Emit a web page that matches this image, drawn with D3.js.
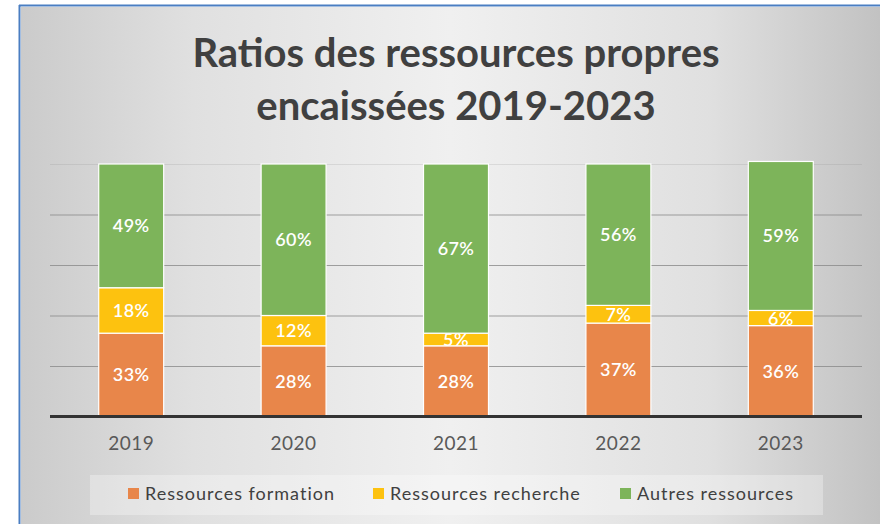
<!DOCTYPE html>
<html><head><meta charset="utf-8">
<script src="https://cdn.jsdelivr.net/npm/d3@7"></script>
<style>html,body{margin:0;padding:0;background:#fff}svg{display:block}</style>
</head><body>
<svg id="c" width="880" height="524"></svg>
<script>
const years = ["2019","2020","2021","2022","2023"];
const seriesNames = ["Ressources formation","Ressources recherche","Autres ressources"];
const formation = [0.33,0.28,0.28,0.37,0.36];
const recherche = [0.18,0.12,0.05,0.07,0.06];
const autres = [0.49,0.60,0.67,0.56,0.59];
const colors = ["#E8864A","#FDC20F","#7DB45A"];
const gridTicks = [0.2,0.4,0.6,0.8,1.0];
const titleLines = ["Ratios des ressources propres","encaissées 2019-2023"];

const svg = d3.select("#c");
const defs = svg.append("defs");
const g1 = defs.append("linearGradient").attr("id","bg").attr("x1","0").attr("x2","1").attr("y1","0").attr("y2","0");
[[0,"#cbcbcb"],[0.2,"#e0e0e0"],[0.5,"#f0f0f0"],[0.8,"#e0e0e0"],[1,"#c2c2c2"]].forEach(s=>g1.append("stop").attr("offset",s[0]).attr("stop-color",s[1]));

svg.append("rect").attr("x",0).attr("y",0).attr("width",880).attr("height",524).attr("fill","#fff");
svg.append("rect").attr("x",21).attr("y",7).attr("width",859).attr("height",517).attr("fill","url(#bg)");
svg.append("line").attr("x1",19.5).attr("x2",19.5).attr("y1",5).attr("y2",524).attr("stroke","#4a7ec2").attr("stroke-width",2);
svg.append("line").attr("x1",19).attr("x2",880).attr("y1",5.5).attr("y2",5.5).attr("stroke","#4a7ec2").attr("stroke-width",2);

// title
svg.append("g").selectAll("text").data(titleLines).join("text")
  .attr("x",456).attr("y",(d,i)=>67+i*53).attr("text-anchor","middle")
  .attr("font-family","Lato").attr("font-weight","bold").attr("font-size",40)
  .attr("fill","#404040").text(d=>d);

const x = d3.scaleBand().domain(years).range([50,862]).paddingInner(0.6).paddingOuter(0.3);
const y = d3.scaleLinear().domain([0,1]).range([416.5,164]);

// gridlines
svg.append("g").attr("transform","translate(50,0)")
  .call(d3.axisLeft(y).tickValues(gridTicks).tickSize(-(862-50)).tickFormat(""))
  .call(g=>g.select(".domain").remove())
  .call(g=>g.selectAll("line").attr("stroke","#8a8a8a").attr("stroke-width",1).attr("stroke-opacity",(d)=>d===1?0.2:0.8));

const table = years.map((yr,i)=>({year:yr,"Ressources formation":formation[i],"Ressources recherche":recherche[i],"Autres ressources":autres[i]}));
const stacked = d3.stack().keys(seriesNames)(table);

const layers = svg.append("g").selectAll("g").data(stacked).join("g").attr("fill",(d,i)=>colors[i]);
layers.selectAll("rect").data(d=>d).join("rect")
  .attr("x",d=>x(d.data.year)).attr("width",x.bandwidth())
  .attr("y",d=>y(d[1])).attr("height",d=>y(d[0])-y(d[1]))
  .attr("stroke","#fff").attr("stroke-width",1.2);

layers.selectAll("text").data(d=>d.map(v=>({v, val:v[1]-v[0]}))).join("text")
  .attr("x",d=>x(d.v.data.year)+x.bandwidth()/2)
  .attr("y",d=>(y(d.v[0])+y(d.v[1]))/2)
  .attr("dy","0.36em").attr("text-anchor","middle")
  .attr("font-family","Lato").attr("font-weight","600").attr("font-size",18).attr("letter-spacing",0.4)
  .attr("fill","#fff").text(d=>d3.format(".0%")(d.val));

// x axis
const xa = svg.append("g").attr("transform","translate(0,416.5)").call(d3.axisBottom(x).tickSize(0).tickPadding(20));
xa.select(".domain").attr("stroke","#333").attr("stroke-width",3).attr("d","M50,0H862");
xa.selectAll("text").attr("font-family","Lato").attr("font-size",19).attr("letter-spacing",0.5).attr("fill","#595959");

// legend
const leg = svg.append("g");
leg.append("rect").attr("x",90).attr("y",475).attr("width",733).attr("height",40).attr("fill","#fff").attr("fill-opacity",0.3);
const legX = [128,373,620];
const li = leg.selectAll("g").data(seriesNames).join("g").attr("transform",(d,i)=>`translate(${legX[i]},0)`);
li.append("rect").attr("x",0).attr("y",488).attr("width",11).attr("height",11).attr("fill",(d,i)=>colors[i]);
li.append("text").attr("x",17).attr("y",500).attr("font-family","Lato").attr("font-size",18).attr("letter-spacing",1.0).attr("fill","#404040").text(d=>d);
</script>
</body></html>
